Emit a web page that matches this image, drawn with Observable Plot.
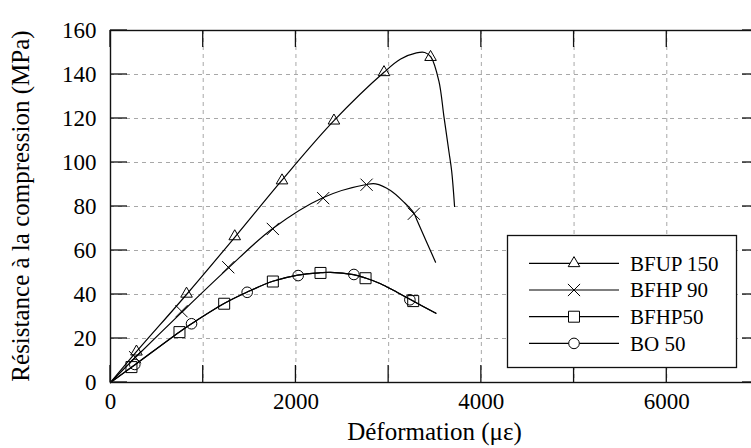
<!DOCTYPE html>
<html>
<head>
<meta charset="utf-8">
<script src="https://cdn.jsdelivr.net/npm/d3@7"></script>
<script src="https://cdn.jsdelivr.net/npm/@observablehq/plot@0.6"></script>
<style>
  html, body { margin: 0; padding: 0; background: white; overflow: hidden; }
  #chart svg { display: block; }
  #chart svg, #chart svg text { font-family: "Liberation Serif", "Times New Roman", serif !important; }
  #chart svg g[aria-label="x-axis tick label"] text,
  #chart svg g[aria-label="y-axis tick label"] text,
  #chart svg g[aria-label="x-axis"] text,
  #chart svg g[aria-label="y-axis"] text { font-size: 23px; fill: black; }
</style>
</head>
<body>
<div id="chart"></div>
<script>
// ---- Data (strain in µε, stress in MPa) ----
const seriesNames = ["BFUP 150", "BFHP 90", "BFHP50", "BO 50"];
const seriesSymbols = ["triangle", "times", "square", "circle"];

// fitted curves
const bfupCurveX = [0, 280, 820, 1340, 1850, 2410, 2950, 3130, 3300, 3390, 3455, 3542, 3596, 3650, 3680, 3711];
const bfupCurveY = [0, 14, 40, 66, 92, 119, 141, 147, 149.8, 150, 148, 137, 121, 105, 96, 80];

const bfhp90CurveX = [0, 260, 770, 1270, 1750, 2290, 2760, 2860, 3020, 3164, 3272, 3307, 3506];
const bfhp90CurveY = [0, 11, 32, 52, 70, 84, 90, 90.3, 87.3, 82, 77, 73.6, 54.7];

const bfhp50CurveX = [0, 230, 744, 874, 1230, 1470, 1750, 2020, 2265, 2373, 2620, 2750, 2913, 3056, 3230, 3510];
const bfhp50CurveY = [0, 7, 23, 26.7, 36, 41, 46, 48.8, 49.9, 50.1, 49, 47.5, 44.9, 41.8, 37.8, 31.5];

const bo50CurveX = [0, 260, 744, 874, 1230, 1470, 1750, 2020, 2265, 2373, 2620, 2750, 2913, 3056, 3230, 3510];
const bo50CurveY = [0, 8, 23, 26.7, 36, 41, 46, 48.8, 49.9, 50.1, 49, 47.5, 44.9, 41.8, 37.8, 31.5];

// measured points (markers)
const bfupPtsX = [280, 820, 1340, 1850, 2410, 2950, 3452];
const bfupPtsY = [14, 40.3, 66.4, 91.8, 119, 141, 147.9];

const bfhp90PtsX = [265, 766, 1270, 1751, 2294, 2762, 3272];
const bfhp90PtsY = [11.5, 32.4, 52.4, 69.8, 83.8, 89.9, 76.7];

const bfhp50PtsX = [226, 744, 1226, 1751, 2265, 2751, 3265];
const bfhp50PtsY = [7, 22.9, 35.8, 45.9, 49.8, 47.4, 37];

const bo50PtsX = [262, 874, 1474, 2024, 2625, 3229];
const bo50PtsY = [8.2, 26.7, 41, 48.6, 49.1, 37.6];

// axes
const xDomain = [0, 7000];
const yDomain = [0, 160];
const xTickValues = [0, 1000, 2000, 3000, 4000, 5000, 6000, 7000];
const xLabelValues = [0, 2000, 4000, 6000];
const yTickValues = [0, 20, 40, 60, 80, 100, 120, 140, 160];
const xGridValues = [1000, 2000, 3000, 4000, 5000, 6000];
const yGridValues = [20, 40, 60, 80, 100, 120, 140];
const xTitle = "Déformation (με)";
const yTitle = "Résistance à la compression (MPa)";

// ---- build tables ----
const zip = (xs, ys) => xs.map((x, i) => ({x, y: ys[i]}));
const curves = [
  zip(bfupCurveX, bfupCurveY),
  zip(bfhp90CurveX, bfhp90CurveY),
  zip(bfhp50CurveX, bfhp50CurveY),
  zip(bo50CurveX, bo50CurveY)
];
const points = [
  zip(bfupPtsX, bfupPtsY),
  zip(bfhp90PtsX, bfhp90PtsY),
  zip(bfhp50PtsX, bfhp50PtsY),
  zip(bo50PtsX, bo50PtsY)
];
const symbolR = {triangle: 4.3, times: 5.6, square: 6.2, circle: 5.3};

const FONT = "'Liberation Serif', 'Times New Roman', serif";
const W = 751, H = 448;

const marks = [
  Plot.ruleX(xGridValues, {stroke: "#a8a8a8", strokeWidth: 1, strokeDasharray: "4,4"}),
  Plot.ruleY(yGridValues, {stroke: "#a8a8a8", strokeWidth: 1, strokeDasharray: "4,4"})
];
curves.forEach((c) => {
  marks.push(Plot.line(c, {x: "x", y: "y", curve: "catmull-rom", stroke: "black", strokeWidth: 1.2}));
});
points.forEach((p, i) => {
  const s = seriesSymbols[i];
  marks.push(Plot.dot(p, {x: "x", y: "y", symbol: () => s, r: symbolR[s], stroke: "black", strokeWidth: 1, fill: "none"}));
});
marks.push(Plot.frame({stroke: "#111", strokeWidth: 1.4}));

const plot = Plot.plot({
  width: W,
  height: H,
  marginLeft: 110,
  marginRight: -8,
  marginTop: 30,
  marginBottom: 66,
  style: {fontSize: "23px", color: "black", background: "white", overflow: "hidden"},
  x: {domain: xDomain, ticks: xLabelValues, tickFormat: d => String(d), tickSize: 0, tickPadding: 10, label: null},
  y: {domain: yDomain, ticks: yTickValues, tickFormat: d => String(d), tickSize: 0, tickPadding: 14, label: null},
  symbol: {type: "identity"},
  marks
});
document.getElementById("chart").appendChild(plot);

// ---- inward ticks, titles and legend ----
const xs = plot.scale("x"), ys = plot.scale("y");
const fx = v => xs.apply(v), fy = v => ys.apply(v);
const svg = d3.select(plot);
svg.selectAll("text").style("font-size", "23px").style("fill", "black");
const [x0, x1] = xs.range, [y0, y1] = ys.range; // y0 bottom, y1 top
const tickLen = 17;
const tg = svg.append("g").attr("stroke", "#111").attr("stroke-width", 1.3);
xTickValues.forEach(v => {
  tg.append("line").attr("x1", fx(v)).attr("x2", fx(v)).attr("y1", y0).attr("y2", y0 - tickLen);
  tg.append("line").attr("x1", fx(v)).attr("x2", fx(v)).attr("y1", y1).attr("y2", y1 + tickLen);
});
yTickValues.forEach(v => {
  tg.append("line").attr("y1", fy(v)).attr("y2", fy(v)).attr("x1", x0).attr("x2", x0 + tickLen);
  tg.append("line").attr("y1", fy(v)).attr("y2", fy(v)).attr("x1", x1).attr("x2", x1 - tickLen);
});

svg.append("text")
  .attr("x", (x0 + x1) / 2).attr("y", 440)
  .attr("text-anchor", "middle").style("font-size", "25px").style("fill", "black")
  .text(xTitle);
svg.append("text")
  .attr("transform", `translate(29,${(y0 + y1) / 2}) rotate(-90)`)
  .attr("text-anchor", "middle").style("font-size", "25px").style("fill", "black")
  .text(yTitle);

// legend
const lg = svg.append("g");
lg.append("rect").attr("x", 507.5).attr("y", 235.5).attr("width", 229).attr("height", 132)
  .attr("fill", "white").attr("stroke", "#111").attr("stroke-width", 1.3);
seriesNames.forEach((name, i) => {
  const cy = 263.3 + i * 26.7;
  lg.append("line").attr("x1", 529).attr("x2", 619).attr("y1", cy).attr("y2", cy)
    .attr("stroke", "black").attr("stroke-width", 1.2);
  const s = seriesSymbols[i];
  const typ = {triangle: d3.symbolTriangle, times: d3.symbolTimes, square: d3.symbolSquare, circle: d3.symbolCircle}[s];
  const r = symbolR[s];
  lg.append("path").attr("transform", `translate(574,${cy})`)
    .attr("d", d3.symbol(typ, Math.PI * r * r)())
    .attr("fill", s === "times" ? "none" : "white").attr("stroke", "black").attr("stroke-width", 1);
  lg.append("text").attr("x", 630).attr("y", cy).attr("dy", "0.35em")
    .attr("text-anchor", "start").style("font-size", "21px").style("fill", "black").text(name);
});
</script>
</body>
</html>
